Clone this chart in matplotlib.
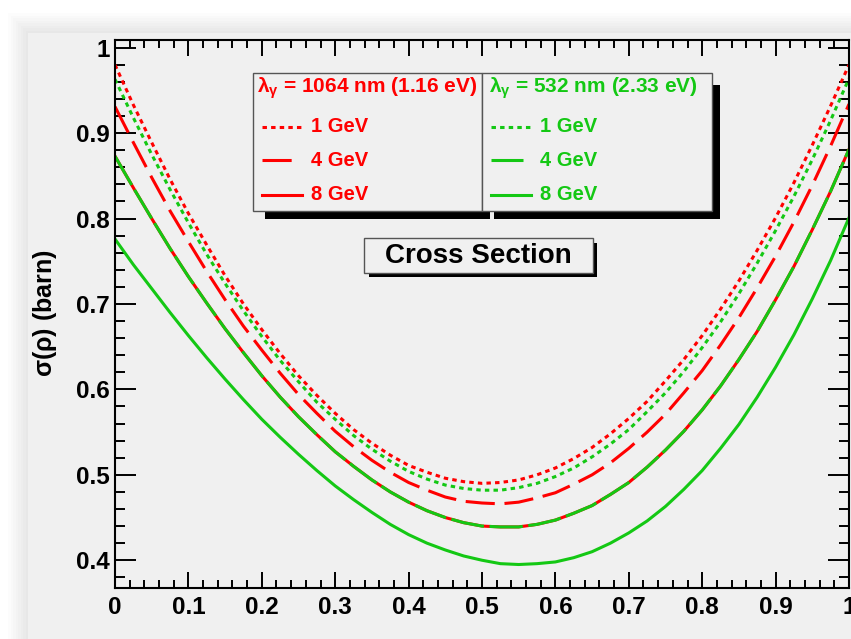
import matplotlib
matplotlib.use('Agg')
import matplotlib.pyplot as plt
from matplotlib.patches import Rectangle
from matplotlib.lines import Line2D
from matplotlib.ticker import MultipleLocator, FuncFormatter

plt.rcParams['font.family'] = ['Liberation Sans', 'DejaVu Sans']
plt.rcParams['mathtext.default'] = 'regular'
plt.rcParams['lines.scale_dashes'] = False

# values, step 0.025 in rho
rho = [0.000, 0.025, 0.050, 0.075, 0.100, 0.125, 0.150, 0.175, 0.200, 0.225,
       0.250, 0.275, 0.300, 0.325, 0.350, 0.375, 0.400, 0.425, 0.450, 0.475,
       0.500, 0.525, 0.550, 0.575, 0.600, 0.625, 0.650, 0.675, 0.700, 0.725,
       0.750, 0.775, 0.800, 0.825, 0.850, 0.875, 0.900, 0.925, 0.950, 0.975, 1.000]
red_1gev = [0.980, 0.933, 0.889, 0.846, 0.806, 0.769, 0.733, 0.700, 0.670, 0.642,
            0.616, 0.593, 0.572, 0.553, 0.537, 0.523, 0.511, 0.503, 0.496, 0.492,
            0.490, 0.491, 0.494, 0.500, 0.508, 0.519, 0.532, 0.548, 0.566, 0.586,
            0.610, 0.635, 0.663, 0.694, 0.727, 0.763, 0.801, 0.842, 0.886, 0.932, 0.980]
green_1gev = [0.963, 0.918, 0.875, 0.834, 0.795, 0.758, 0.724, 0.692, 0.662, 0.634,
              0.609, 0.585, 0.565, 0.546, 0.530, 0.516, 0.504, 0.495, 0.488, 0.484,
              0.482, 0.482, 0.485, 0.490, 0.498, 0.508, 0.521, 0.536, 0.553, 0.574,
              0.596, 0.621, 0.649, 0.679, 0.712, 0.748, 0.786, 0.826, 0.869, 0.915, 0.964]
red_4gev = [0.931, 0.889, 0.848, 0.809, 0.773, 0.738, 0.705, 0.674, 0.646, 0.619,
            0.594, 0.572, 0.551, 0.533, 0.517, 0.503, 0.491, 0.482, 0.474, 0.469,
            0.467, 0.466, 0.468, 0.473, 0.479, 0.489, 0.500, 0.514, 0.531, 0.550,
            0.571, 0.596, 0.622, 0.652, 0.684, 0.719, 0.756, 0.796, 0.839, 0.885, 0.934]
red_8gev = [0.873, 0.836, 0.800, 0.765, 0.732, 0.701, 0.671, 0.643, 0.616, 0.591,
            0.568, 0.547, 0.527, 0.510, 0.494, 0.480, 0.468, 0.458, 0.450, 0.444,
            0.440, 0.439, 0.439, 0.442, 0.447, 0.455, 0.464, 0.477, 0.491, 0.509,
            0.529, 0.551, 0.576, 0.604, 0.635, 0.668, 0.705, 0.744, 0.787, 0.832, 0.881]
green_4gev = [0.873, 0.836, 0.800, 0.765, 0.732, 0.701, 0.671, 0.643, 0.616, 0.591,
              0.568, 0.547, 0.527, 0.510, 0.494, 0.480, 0.468, 0.458, 0.450, 0.444,
              0.440, 0.439, 0.439, 0.442, 0.447, 0.455, 0.464, 0.477, 0.491, 0.509,
              0.529, 0.551, 0.576, 0.604, 0.635, 0.668, 0.705, 0.744, 0.787, 0.832, 0.881]
green_8gev = [0.776, 0.746, 0.718, 0.690, 0.663, 0.637, 0.612, 0.588, 0.565, 0.544,
              0.524, 0.505, 0.487, 0.471, 0.456, 0.442, 0.430, 0.420, 0.412, 0.405,
              0.400, 0.396, 0.395, 0.396, 0.398, 0.403, 0.410, 0.420, 0.432, 0.446,
              0.463, 0.483, 0.505, 0.531, 0.559, 0.591, 0.626, 0.664, 0.706, 0.751, 0.801]

energies = ['1 GeV', '4 GeV', '8 GeV']
header_red = r'$\lambda_{\gamma}$ = 1064 nm (1.16 eV)'
header_green = r'$\lambda_{\gamma}$ = 532 nm (2.33 eV)'

RED = '#ff0000'
GREEN = '#14c814'
BG = '#f0f0f0'
LW = 2.2
DOT = (0, (3.2, 3.0))
LONG = (0, (21, 7))
LONG_G = (0, (24, 4))

W, H = 851, 639
fig = plt.figure(figsize=(W / 100, H / 100), dpi=100)
fig.patch.set_facecolor('white')


def fx(x):
    return x / W


def fy(y):
    return 1 - y / H


def box(x0, y0, x1, y1, off_a, off_b, z):
    # ROOT-like pave with black drop shadow
    for r in [(x0 + off_a, y1, x1 + off_b, y1 + off_b), (x1, y0 + off_a, x1 + off_b, y1 + off_b)]:
        fig.add_artist(Rectangle((fx(r[0]), fy(r[3])), fx(r[2] - r[0]), (r[3] - r[1]) / H,
                                 transform=fig.transFigure, facecolor='black',
                                 edgecolor='none', zorder=z))
    fig.add_artist(Rectangle((fx(x0), fy(y1)), fx(x1 - x0), (y1 - y0) / H,
                             transform=fig.transFigure, facecolor=BG,
                             edgecolor='#555555', lw=1, zorder=z + 0.1))


# canvas panel with a soft shadow
for k in range(8, 0, -1):
    fig.add_artist(Rectangle((fx(28 - k * 2.5), 0), 1, fy(33 - k * 2.5),
                             transform=fig.transFigure, facecolor='#000000',
                             alpha=0.012, edgecolor='none', zorder=-3))
fig.add_artist(Rectangle((fx(28), 0), 1, fy(33), transform=fig.transFigure,
                         facecolor=BG, edgecolor='none', zorder=-2))

ax = fig.add_axes([fx(115), fy(588), fx(849 - 115), (588 - 40) / H])
ax.set_facecolor(BG)

ax.plot(rho, red_1gev, color=RED, lw=LW, linestyle=DOT)
ax.plot(rho, green_1gev, color=GREEN, lw=LW, linestyle=DOT)
ax.plot(rho, red_4gev, color=RED, lw=LW, linestyle=LONG)
ax.plot(rho, red_8gev, color=RED, lw=LW)
ax.plot(rho, green_4gev, color=GREEN, lw=LW, linestyle=LONG_G)
ax.plot(rho, green_8gev, color=GREEN, lw=LW)

ax.set_xlim(0, 1)
ax.set_ylim(0.3675, 1.009)
ax.xaxis.set_major_locator(MultipleLocator(0.1))
ax.xaxis.set_minor_locator(MultipleLocator(0.02))
ax.yaxis.set_major_locator(MultipleLocator(0.1))
ax.yaxis.set_minor_locator(MultipleLocator(0.02))
fmt = FuncFormatter(lambda v, p: f'{round(v, 2):g}')
ax.xaxis.set_major_formatter(fmt)
ax.yaxis.set_major_formatter(fmt)

for s in ax.spines.values():
    s.set_linewidth(1.5)
ax.tick_params(which='both', direction='in', top=True, right=True, width=1.4)
ax.tick_params(axis='x', which='major', length=11.5, pad=5.5, labelsize=17.5)
ax.tick_params(axis='x', which='minor', length=5.8)
ax.tick_params(axis='y', which='major', length=15, pad=4, labelsize=17.5)
ax.tick_params(axis='y', which='minor', length=7.5)
for lab in ax.get_xticklabels() + ax.get_yticklabels():
    lab.set_fontweight('bold')

fig.text(fx(45), fy(313), r'$\sigma(\rho)$ (barn)', rotation=90, fontsize=18,
         fontweight='bold', ha='center', va='center')
fig.text(fx(483), fy(648), r'$\rho$', fontsize=16, ha='center', va='center')

# legends
box(253, 73, 482, 211, 12, 8, 5)
box(482, 73, 712, 211, 12, 8, 6)
rows = [127, 160, 195]
red_styles = [DOT, LONG, '-']
green_styles = [DOT, LONG_G, '-']
fig.text(fx(257), fy(88), header_red, color=RED, fontsize=15, fontweight='bold',
         ha='left', va='center', zorder=7)
fig.text(fx(489), fy(88), header_green, color=GREEN, fontsize=15, fontweight='bold',
         ha='left', va='center', zorder=7)
for i, lab in enumerate(energies):
    y = rows[i]
    x_end = 294 if i == 1 else 302
    fig.add_artist(Line2D([fx(262), fx(x_end)], [fy(y), fy(y)], transform=fig.transFigure,
                          color=RED, lw=LW, linestyle=red_styles[i], zorder=7))
    fig.text(fx(311), fy(y), lab, color=RED, fontsize=14.5, fontweight='bold',
             ha='left', va='center', zorder=7)
    x_end = 523 if i == 1 else 531
    fig.add_artist(Line2D([fx(491), fx(x_end)], [fy(y), fy(y)], transform=fig.transFigure,
                          color=GREEN, lw=LW, linestyle=green_styles[i], zorder=7))
    fig.text(fx(540), fy(y), lab, color=GREEN, fontsize=14.5, fontweight='bold',
             ha='left', va='center', zorder=7)

box(364, 238, 593, 273, 5, 4, 5)
fig.text(fx(478.5), fy(256), 'Cross Section', fontsize=20, fontweight='bold',
         ha='center', va='center', zorder=7)

fig.savefig('out.png', dpi=100)
